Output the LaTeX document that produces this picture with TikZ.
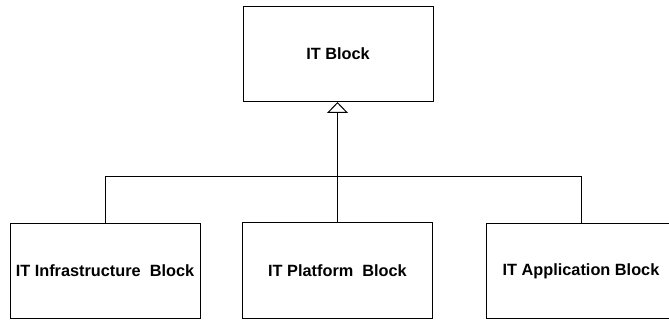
\documentclass[tikz,border=0pt]{standalone}
\usepackage{fontspec}
\setmainfont{Liberation Sans}
\usetikzlibrary{arrows.meta}
\begin{document}
\begin{tikzpicture}[x=1pt,y=-1pt,
  blockbox/.style={draw=black,line width=1pt,minimum width=190pt,minimum height=95pt,inner sep=0pt,font=\fontsize{16.3}{19}\selectfont\bfseries},
  conn/.style={draw=black,line width=1pt}]
\useasboundingbox (0,0) rectangle (669,320);
\node[blockbox] (top) at (338,54) {IT Block};
\node[blockbox] (infra) at (105,271) {IT Infrastructure\ \ Block};
\node[blockbox] (plat) at (337.5,270.5) {IT Platform\ \ Block};
\node[blockbox] (app) at (581,271) {IT Application Block};
\coordinate (junc) at (337.5,177);
\draw[conn] (infra.north) |- (junc);
\draw[conn] (app.north) |- (junc);
\draw[conn,-{Triangle[open,width=21pt,length=11pt,line width=1pt]}] (plat.north) -- (plat.north |- top.south);
\end{tikzpicture}
\end{document}
